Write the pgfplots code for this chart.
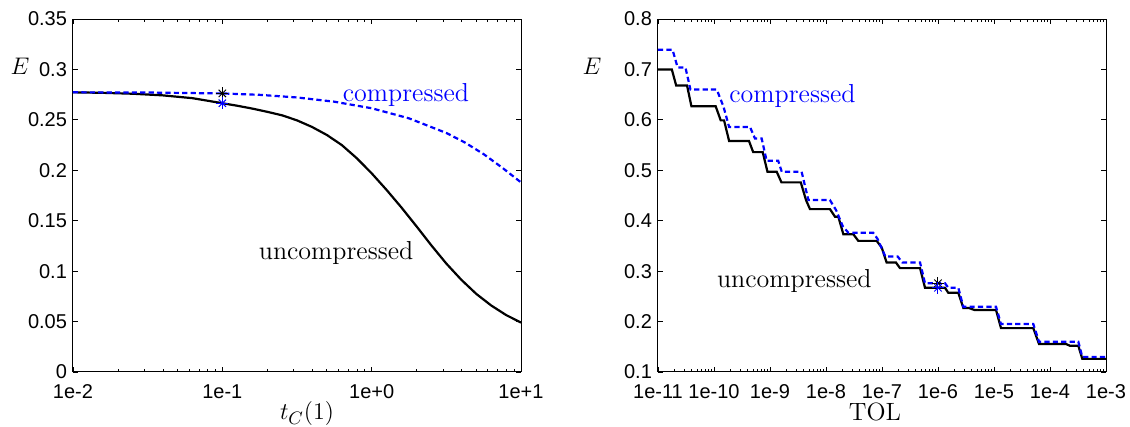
\documentclass[border=0pt]{standalone}
\usepackage{pgfplots}
\pgfplotsset{compat=1.18}
\usepackage{pgfplotstable}
\usepackage{fontspec}
\newfontfamily\tickfont{Liberation Sans}
\definecolor{mblue}{RGB}{0,0,255}

\pgfplotstableread{
L E
-2.0 0.2773
-1.8 0.2768
-1.6 0.2759
-1.4 0.2743
-1.2 0.2715
-1.0 0.2665
-0.9 0.2640
-0.8 0.2612
-0.7 0.2580
-0.6 0.2545
-0.5 0.2495
-0.4 0.2430
-0.3 0.2350
-0.2 0.2250
-0.1 0.2120
0.0 0.1970
0.1 0.1805
0.2 0.1630
0.3 0.1445
0.4 0.1255
0.5 0.1075
0.6 0.0915
0.7 0.0775
0.8 0.0660
0.9 0.0565
1.0 0.0490
}\leftunc

\pgfplotstableread{
L E
-2.0 0.2773
-1.5 0.2771
-1.0 0.2762
-0.75 0.2748
-0.5 0.2722
-0.25 0.2680
0.0 0.2615
0.25 0.2515
0.5 0.2370
0.625 0.2275
0.75 0.2160
0.875 0.2025
1.0 0.1880
}\leftcom

\pgfplotstableread{
L E
-11.0 0.700
-10.753 0.700
-10.675 0.668
-10.481 0.668
-10.403 0.627
-9.97 0.627
-9.88 0.599
-9.82 0.599
-9.73 0.558
-9.375 0.558
-9.30 0.536
-9.13 0.536
-9.045 0.497
-8.88 0.497
-8.795 0.476
-8.45 0.476
-8.357 0.441
-8.286 0.423
-7.929 0.423
-7.839 0.408
-7.78 0.408
-7.69 0.373
-7.51 0.373
-7.423 0.360
-7.095 0.360
-7.006 0.347
-6.917 0.317
-6.75 0.317
-6.679 0.306
-6.32 0.306
-6.232 0.267
-5.875 0.267
-5.816 0.257
-5.637 0.257
-5.548 0.227
-5.45 0.227
-5.35 0.223
-4.964 0.223
-4.875 0.187
-4.298 0.187
-4.196 0.1555
-3.714 0.1555
-3.643 0.152
-3.494 0.152
-3.423 0.126
-3.0 0.126
}\rightunc

\pgfplotstableread{
L E
-11.0 0.739
-10.74 0.739
-10.65 0.704
-10.51 0.704
-10.42 0.660
-9.95 0.660
-9.83 0.626
-9.73 0.586
-9.357 0.586
-9.268 0.563
-9.149 0.563
-9.06 0.519
-8.854 0.519
-8.79 0.497
-8.435 0.497
-8.315 0.441
-7.93 0.441
-7.82 0.421
-7.70 0.389
-7.60 0.376
-7.156 0.376
-7.08 0.364
-6.94 0.329
-6.72 0.329
-6.636 0.317
-6.32 0.317
-6.232 0.276
-5.875 0.276
-5.816 0.267
-5.637 0.267
-5.548 0.2295
-4.964 0.2295
-4.875 0.195
-4.298 0.195
-4.196 0.160
-3.494 0.160
-3.423 0.130
-3.0 0.130
}\rightcom

\pgfplotsset{
  mystyle/.style={
    scale only axis,
    width=224pt, height=176.5pt,
    anchor=south west,
    tick align=inside,
    tick pos=both,
    major tick length=2.5pt,
    minor tick length=1.3pt,
    axis line style={line width=0.5pt},
    every tick/.style={black, line width=0.4pt},
    ticklabel style={font=\tickfont\fontsize{10}{11}\selectfont},
    xticklabel style={yshift=-2.7pt},
    yticklabel style={xshift=0.5pt},
  },
  unc/.style={black, line width=1.1pt, no marks},
  com/.style={mblue, line width=1.1pt, no marks, dash pattern=on 2.6pt off 1.6pt},
}

\begin{document}
\begin{tikzpicture}[x=1pt,y=1pt]
\useasboundingbox (0,0) rectangle (565,213.5);

\begin{axis}[xmode=log, mystyle,
  at={(36.5pt,27.5pt)},
  xmin=1e-2, xmax=10,
  ymin=0, ymax=0.35,
  xtick={1e-2,1e-1,1,10},
  xticklabels={1e-2,1e-1,1e+0,1e+1},
  minor xtick={2e-2,3e-2,4e-2,5e-2,6e-2,7e-2,8e-2,9e-2,0.2,0.3,0.4,0.5,0.6,0.7,0.8,0.9,2,3,4,5,6,7,8,9},
  ytick={0,0.05,0.1,0.15,0.2,0.25,0.3,0.35},
  yticklabels={0,0.05,0.1,0.15,0.2,0.25,0.3,0.35},
]
\addplot[unc] table[x expr={10^(\thisrow{L})}, y=E] {\leftunc};
\addplot[com] table[x expr={10^(\thisrow{L})}, y=E] {\leftcom};
\addplot[black, only marks, mark=+, mark size=3pt, mark options={line width=0.5pt}] coordinates {(0.1,0.2762)};
\addplot[black, only marks, mark=x, mark size=2.6pt, mark options={line width=0.5pt}] coordinates {(0.1,0.2762)};
\addplot[mblue, only marks, mark=+, mark size=3pt, mark options={line width=0.5pt}] coordinates {(0.1,0.2665)};
\addplot[mblue, only marks, mark=x, mark size=2.6pt, mark options={line width=0.5pt}] coordinates {(0.1,0.2665)};
\node[anchor=base west, text=mblue, inner sep=0pt, font=\fontsize{13}{15}\selectfont] at (axis cs:0.638,0.2684) {compressed};
\node[anchor=base west, text=black, inner sep=0pt, font=\fontsize{13}{15}\selectfont] at (axis cs:0.1746,0.1114) {uncompressed};
\end{axis}

\begin{axis}[xmode=log, mystyle,
  at={(329pt,27.5pt)},
  xmin=1e-11, xmax=1e-3,
  ymin=0.1, ymax=0.8,
  xtick={1e-11,1e-10,1e-9,1e-8,1e-7,1e-6,1e-5,1e-4,1e-3},
  xticklabels={1e-11,1e-10,1e-9,1e-8,1e-7,1e-6,1e-5,1e-4,1e-3},
  minor xtick={2e-11,3e-11,4e-11,5e-11,6e-11,7e-11,8e-11,9e-11,
    2e-10,3e-10,4e-10,5e-10,6e-10,7e-10,8e-10,9e-10,
    2e-9,3e-9,4e-9,5e-9,6e-9,7e-9,8e-9,9e-9,
    2e-8,3e-8,4e-8,5e-8,6e-8,7e-8,8e-8,9e-8,
    2e-7,3e-7,4e-7,5e-7,6e-7,7e-7,8e-7,9e-7,
    2e-6,3e-6,4e-6,5e-6,6e-6,7e-6,8e-6,9e-6,
    2e-5,3e-5,4e-5,5e-5,6e-5,7e-5,8e-5,9e-5,
    2e-4,3e-4,4e-4,5e-4,6e-4,7e-4,8e-4,9e-4},
  ytick={0.1,0.2,0.3,0.4,0.5,0.6,0.7,0.8},
  yticklabels={0.1,0.2,0.3,0.4,0.5,0.6,0.7,0.8},
]
\addplot[unc] table[x expr={10^(\thisrow{L})}, y=E] {\rightunc};
\addplot[com] table[x expr={10^(\thisrow{L})}, y=E] {\rightcom};
\addplot[black, only marks, mark=+, mark size=3pt, mark options={line width=0.5pt}] coordinates {(1e-6,0.276)};
\addplot[black, only marks, mark=x, mark size=2.6pt, mark options={line width=0.5pt}] coordinates {(1e-6,0.276)};
\addplot[mblue, only marks, mark=+, mark size=3pt, mark options={line width=0.5pt}] coordinates {(1e-6,0.267)};
\addplot[mblue, only marks, mark=x, mark size=2.6pt, mark options={line width=0.5pt}] coordinates {(1e-6,0.267)};
\node[anchor=base west, text=mblue, inner sep=0pt, font=\fontsize{13}{15}\selectfont] at (axis cs:1.854e-10,0.635) {compressed};
\node[anchor=base west, text=black, inner sep=0pt, font=\fontsize{13}{15}\selectfont] at (axis cs:1.117e-10,0.268) {uncompressed};
\end{axis}

\node[anchor=base, inner sep=0pt, font=\fontsize{12}{14}\selectfont] at (10,176) {$E$};
\node[anchor=base, inner sep=0pt, font=\fontsize{12}{14}\selectfont] at (296,176) {$E$};
\node[anchor=base, inner sep=0pt, font=\fontsize{12.5}{15}\selectfont] at (153.5,3.5) {$t_C(1)$};
\node[anchor=base, inner sep=0pt, font=\fontsize{12.5}{15}\selectfont] at (437.5,3.2) {TOL};
\end{tikzpicture}
\end{document}
